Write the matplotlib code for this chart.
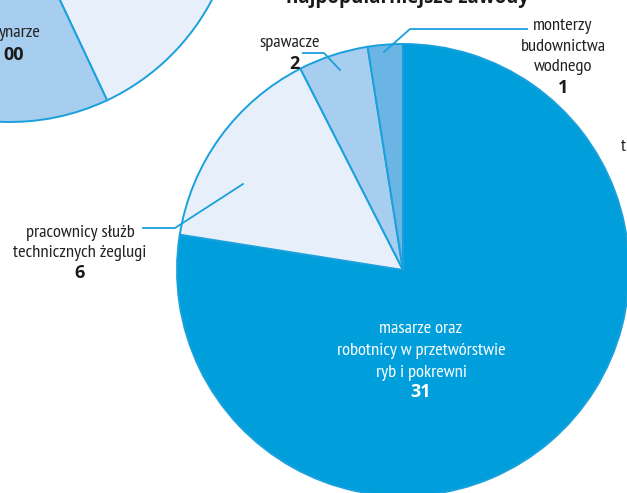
import matplotlib
matplotlib.use("Agg")
import matplotlib.pyplot as plt

W, H = 627, 493

# main pie data
categories = ["masarze oraz\nrobotnicy w przetwórstwie\nryb i pokrewni",
              "pracownicy służb\ntechnicznych żeglugi",
              "spawacze",
              "monterzy\nbudownictwa\nwodnego"]
values = [31, 6, 2, 1]
colors = ["#009FDB", "#E7F0FA", "#A7CDEF", "#6BB5E5"]

# partial (neighbouring) pie data - mostly off-canvas
values2 = [43, 30, 27]
colors2 = ["#E7F0FA", "#A7CDEF", "#6BB5E5"]

EDGE = "#1AA0DC"
NARROW = ["PT Sans Narrow", "DejaVu Sans"]
BOLD = ["Open Sans", "DejaVu Sans"]

fig = plt.figure(figsize=(W / 100, H / 100), dpi=100)
ax = fig.add_axes([0, 0, 1, 1])

def Y(py):
    return H - py

# neighbouring pie (top-left)
ax.pie(values2, colors=colors2, startangle=90, counterclock=False,
       center=(10, Y(-106)), radius=228,
       wedgeprops=dict(edgecolor=EDGE, linewidth=1.4), frame=True)

# main pie
ax.pie(values, colors=colors, startangle=90, counterclock=False,
       center=(403, Y(270)), radius=226,
       wedgeprops=dict(edgecolor=EDGE, linewidth=1.4), frame=True)
ax.set_xlim(0, W)
ax.set_ylim(0, H)
ax.set_aspect("equal")
ax.axis("off")

lab = dict(fontsize=13.3, family=NARROW, weight="normal", color="#222222",
           ha="center", va="baseline")
num = dict(fontsize=13, family=BOLD, weight="bold", color="#1a1a1a",
           ha="center", va="baseline")

# masarze (inside, white)
for txt, by in zip(categories[0].split("\n"), [333, 355, 377]):
    ax.text(421, Y(by), txt, **{**lab, "color": "white"})
ax.text(421, Y(397), str(values[0]), **{**num, "color": "white"})

# pracownicy
for txt, by in zip(categories[1].split("\n"), [237, 257]):
    ax.text(80, Y(by), txt, **lab)
ax.text(80, Y(278), str(values[1]), **num)
ax.plot([143, 175, 243], [Y(228), Y(228), Y(184)], color=EDGE, lw=1.3)

# spawacze
ax.text(290, Y(47), categories[2], **lab)
ax.text(294, Y(69), str(values[2]), **num)
ax.plot([303, 324, 340], [Y(53), Y(53), Y(70)], color=EDGE, lw=1.3)

# monterzy
for txt, by in zip(categories[3].split("\n"), [30, 51, 71]):
    ax.text(563, Y(by), txt, **lab)
ax.text(563, Y(93), str(values[3]), **num)
ax.plot([527, 410, 384], [Y(29), Y(29), Y(52)], color=EDGE, lw=1.3)

# partial texts cut by the frame
ax.text(41, Y(37), "ynarze", **{**lab, "ha": "right"})
ax.text(24, Y(60), "00", **{**num, "ha": "right"})
ax.text(621, Y(151), "t", **{**lab, "ha": "left"})
ax.text(407, Y(2.5), "najpopularniejsze zawody", fontsize=13.5, family=BOLD,
        weight="bold", color="#1a1a1a", ha="center", va="baseline")

fig.savefig("out.png", dpi=100)
